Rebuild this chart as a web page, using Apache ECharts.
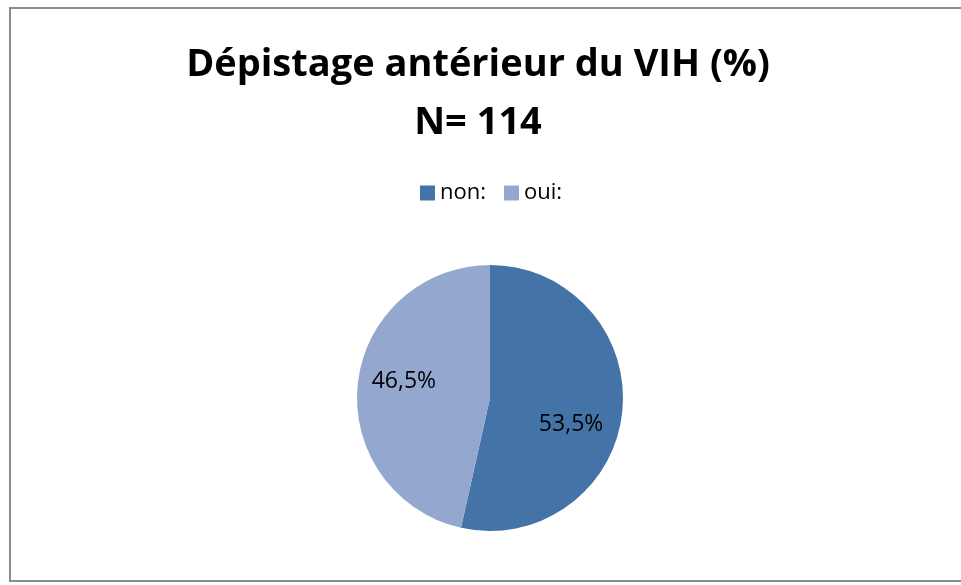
<!DOCTYPE html>
<html>
<head>
<meta charset="utf-8">
<script src="https://cdn.jsdelivr.net/npm/echarts@6/dist/echarts.min.js"></script>
<style>
  html, body { margin: 0; padding: 0; background: #fff; }
  #frame {
    position: absolute; left: 9px; top: 7px; width: 960px; height: 575px;
    border: 2px solid #8c8c8c; box-sizing: border-box;
  }
  #chart { position: absolute; left: 0; top: 0; width: 961px; height: 585px; }
</style>
</head>
<body>
<div id="frame"></div>
<div id="chart"></div>
<script>
// data
const categories = ['non:', 'oui:']
const values = [53.5, 46.5]
const colors = ['#4473a8', '#94a8cf']

const labelOffsets = [[12, 19], [-17, -9]]

const chart = echarts.init(document.getElementById('chart'))
chart.setOption({
  animation: false,
  title: {
    text: 'Dépistage antérieur du VIH (%)\nN= 114',
    left: 473,
    textAlign: 'center',
    top: 31,
    textStyle: {
      fontFamily: 'Open Sans',
      fontWeight: 'bold',
      fontSize: 38,
      lineHeight: 58,
      color: '#000'
    }
  },
  legend: {
    top: 177,
    left: 415,
    itemWidth: 15,
    itemHeight: 15,
    itemGap: 18,
    icon: 'rect',
    textStyle: { fontFamily: 'Open Sans', fontSize: 22, color: '#000' },
    data: categories
  },
  series: [{
    type: 'pie',
    center: [490, 398],
    radius: 133,
    startAngle: 90,
    clockwise: true,
    label: {
      position: 'inside',
      fontFamily: 'Open Sans',
      fontSize: 23,
      color: '#000',
      formatter: p => p.value.toFixed(1).replace('.', ',') + '%'
    },
    labelLine: { show: false },
    emphasis: { disabled: true },
    data: categories.map((c, i) => ({
      name: c,
      value: values[i],
      itemStyle: { color: colors[i] },
      label: { offset: labelOffsets[i] }
    }))
  }]
})
</script>
</body>
</html>
